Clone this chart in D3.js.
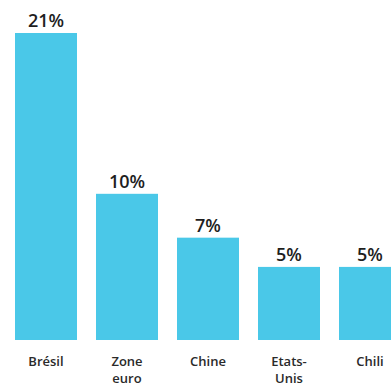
<!DOCTYPE html>
<html>
<head>
<meta charset="utf-8">
<script src="https://cdn.jsdelivr.net/npm/d3@7"></script>
<style>
  html, body { margin: 0; padding: 0; background: #fff; }
  svg { display: block; }
</style>
</head>
<body>
<div id="chart"></div>
<script>
// données
const categories = [["Brésil"], ["Zone", "euro"], ["Chine"], ["Etats-", "Unis"], ["Chili"]];
const values = [21, 10, 7, 5, 5];
const valueLabels = ["21%", "10%", "7%", "5%", "5%"];

const width = 391, height = 383;
const baseline = 340;
const barColor = "#4AC8E8";

const svg = d3.select("#chart").append("svg")
  .attr("width", width)
  .attr("height", height);

const keys = categories.map(d => d.join(" "));

const xScale = d3.scaleBand()
  .domain(keys)
  .range([15, 401])
  .paddingInner(0.2346)
  .paddingOuter(0);

const yScale = d3.scaleLinear()
  .domain([0, 21])
  .range([baseline, 33]);

// barres
svg.selectAll(".bar")
  .data(values)
  .enter()
  .append("rect")
    .classed("bar", true)
    .attr("x", (d, i) => xScale(keys[i]))
    .attr("y", d => yScale(d))
    .attr("width", xScale.bandwidth())
    .attr("height", d => yScale(0) - yScale(d))
    .style("fill", barColor);

// étiquettes de valeur
svg.selectAll(".value-label")
  .data(values)
  .enter()
  .append("text")
    .classed("value-label", true)
    .attr("x", (d, i) => xScale(keys[i]) + xScale.bandwidth() / 2)
    .attr("y", d => yScale(d) - 6)
    .attr("text-anchor", "middle")
    .style("font-family", "'Open Sans', sans-serif")
    .style("font-weight", "600")
    .style("font-size", "18px")
    .style("fill", "#1e1e1e")
    .text((d, i) => valueLabels[i]);

// catégories (sur deux lignes si besoin)
svg.selectAll(".cat-label")
  .data(categories)
  .enter()
  .append("text")
    .classed("cat-label", true)
    .attr("x", (d, i) => xScale(keys[i]) + xScale.bandwidth() / 2)
    .attr("y", 366)
    .attr("text-anchor", "middle")
    .style("font-family", "'Open Sans', sans-serif")
    .style("font-weight", "600")
    .style("font-size", "13px")
    .style("fill", "#2a2a2a")
    .each(function(d, i) {
      const t = d3.select(this);
      const cx = xScale(keys[i]) + xScale.bandwidth() / 2;
      d.forEach((line, j) => {
        t.append("tspan")
          .attr("x", cx)
          .attr("dy", j === 0 ? 0 : 17)
          .text(line);
      });
    });
</script>
</body>
</html>
